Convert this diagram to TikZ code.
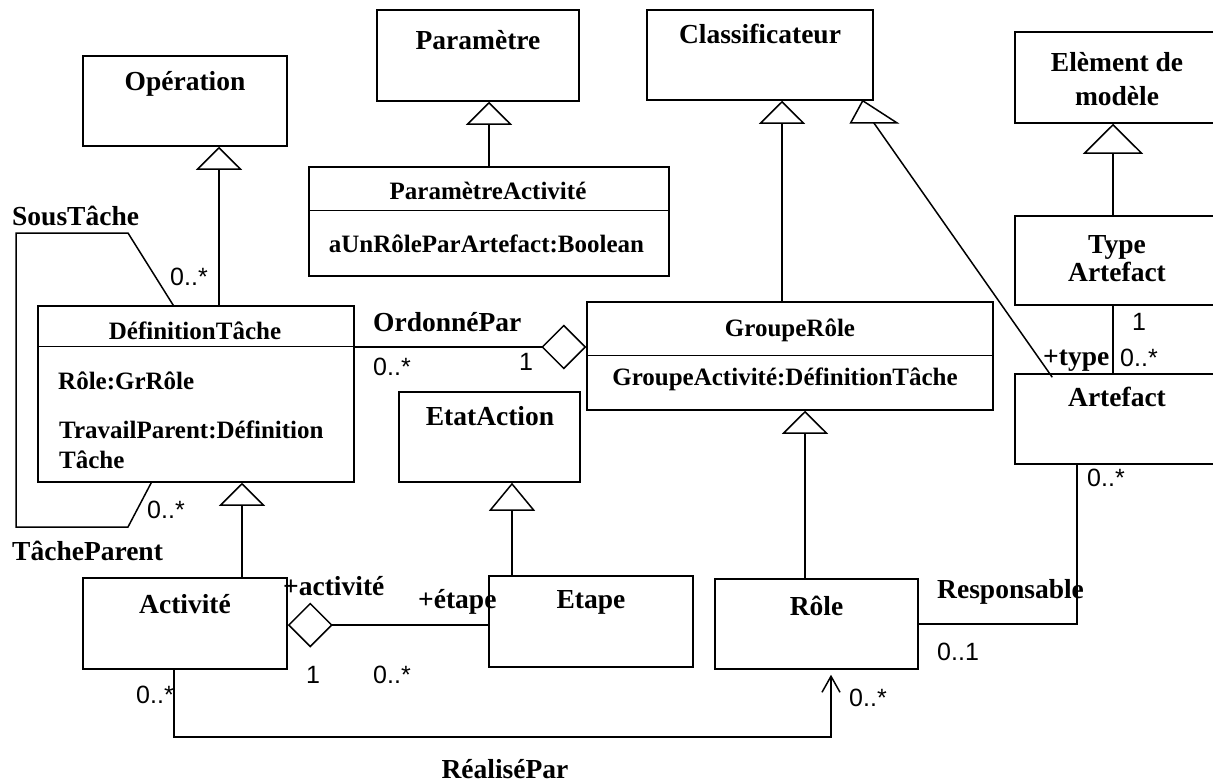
\documentclass[tikz,border=0pt]{standalone}
\usepackage{fontspec}
\setmainfont{Liberation Serif}
\newfontfamily\msans{Liberation Sans}
\usetikzlibrary{arrows.meta,calc}

\tikzset{
  cls/.style={draw, rectangle, line width=1.5pt, inner sep=0pt},
  ttl/.style={font=\bfseries\fontsize{27.5}{30}\selectfont, inner sep=0pt},
  att/.style={font=\bfseries\fontsize{25}{28}\selectfont, inner sep=0pt},
  mul/.style={font=\msans\fontsize{25}{28}\selectfont, inner sep=0pt},
  lnk/.style={line width=1.5pt},
  gen/.style={lnk, -{Triangle[open,length=23pt,width=46pt]}},
  genbig/.style={lnk, -{Triangle[open,length=30pt,width=60pt]}},
  gentall/.style={lnk, -{Triangle[open,length=28pt,width=46pt]}},
  aggend/.style={lnk, -{Diamond[open,length=45pt,width=45pt]}},
  aggstart/.style={lnk, {Diamond[open,length=45pt,width=45pt]}-},
  nav/.style={lnk, -{Straight Barb[length=16pt,width=18pt]}},
}

\begin{document}
\begin{tikzpicture}[x=1pt,y=-1pt]
\useasboundingbox (0,0) rectangle (1213,784);
\fill[white] (0,0) rectangle (1213,784);
\clip (0,0) rectangle (1213,784);

% ---------- classes ----------
\node[cls, minimum width=204, minimum height=90]  (op)   at (185,101)    {};
\node[cls, minimum width=202, minimum height=91]  (par)  at (478,55.5)   {};
\node[cls, minimum width=226, minimum height=90]  (cla)  at (760,55)     {};
\node[cls, minimum width=204, minimum height=91]  (elm)  at (1117,77.5)  {};
\node[cls, minimum width=360, minimum height=109] (pact) at (489,221.5)  {};
\node[cls, minimum width=204, minimum height=89]  (typ)  at (1117,260.5) {};
\node[cls, minimum width=316, minimum height=176] (deft) at (196,394)    {};
\node[cls, minimum width=406, minimum height=108] (grp)  at (790,356)    {};
\node[cls, minimum width=204, minimum height=90]  (art)  at (1117,419)   {};
\node[cls, minimum width=181, minimum height=90]  (eta)  at (489.5,437)  {};
\node[cls, minimum width=204, minimum height=91]  (act)  at (185,623.5)  {};
\node[cls, minimum width=204, minimum height=91]  (etp)  at (591,621.5)  {};
\node[cls, minimum width=203, minimum height=90]  (rol)  at (816.5,624)  {};

% compartment separators
\draw[lnk] ($(pact.north west)+(0,44)$) -- ($(pact.north east)+(0,44)$);
\draw[lnk] ($(deft.north west)+(0,41)$) -- ($(deft.north east)+(0,41)$);
\draw[lnk] ($(grp.north west)+(0,54)$) -- ($(grp.north east)+(0,54)$);

% ---------- class names and attributes ----------
\node[ttl, anchor=base] (tOp)  at (185,91)    {Opération};
\node[ttl, anchor=base] (tPar) at (478,50)    {Paramètre};
\node[ttl, anchor=base] (tCla) at (760,44)    {Classificateur};
\node[ttl, anchor=base] (tElA) at (1117,71)   {Elèment de};
\node[ttl, anchor=base] (tElB) at (1117,106)  {modèle};
\node[ttl, anchor=base] (tTyA) at (1117,253)  {Type};
\node[ttl, anchor=base] (tTyB) at (1117,281)  {Artefact};
\node[ttl, anchor=base] (tArt) at (1117,406)  {Artefact};
\node[ttl, anchor=base] (tEta) at (490,425)   {EtatAction};
\node[ttl, anchor=base] (tAct) at (185,613)   {Activité};
\node[ttl, anchor=base] (tEtp) at (591,608)   {Etape};
\node[ttl, anchor=base] (tRol) at (816.5,615) {Rôle};

\node[att, anchor=base] (tPac) at (488,199)   {ParamètreActivité};
\node[att, anchor=base] (aPac) at (486.5,252) {aUnRôleParArtefact:Boolean};
\node[att, anchor=base] (tDef) at (195,339)   {DéfinitionTâche};
\node[att, anchor=base west] (aDf1) at (58,389)  {Rôle:GrRôle};
\node[att, anchor=base west] (aDf2) at (59,438)  {TravailParent:Définition};
\node[att, anchor=base west] (aDf3) at (59,468)  {Tâche};
\node[att, anchor=base] (tGrp) at (790,336)   {GroupeRôle};
\node[att, anchor=base] (aGrp) at (785,385)   {GroupeActivité:DéfinitionTâche};

% ---------- generalisations ----------
\coordinate (xOp)  at (219,0);
\coordinate (xPar) at (489,0);
\coordinate (xCla) at (782,0);
\coordinate (xElm) at (1113,0);
\coordinate (xDef) at (242,0);
\coordinate (xEta) at (512,0);
\coordinate (xGrp) at (805,0);

\draw[gen]     (deft.north -| xOp)  -- (op.south -| xOp);
\draw[gen]     (pact.north -| xPar) -- (par.south -| xPar);
\draw[gen]     (grp.north -| xCla)  -- (cla.south -| xCla);
\draw[genbig]  (typ.north -| xElm)  -- (elm.south -| xElm);
\draw[gen]     (act.north -| xDef)  -- (deft.south -| xDef);
\draw[gentall] (etp.north -| xEta)  -- (eta.south -| xEta);
\draw[gen]     (rol.north -| xGrp)  -- (grp.south -| xGrp);

% Artefact -> Classificateur (slanted line, upright open triangle)
\coordinate (triApex) at ($(cla.south east)+(-11,0)$);
\coordinate (triL)    at ($(cla.south east)+(-23,22)$);
\coordinate (triR)    at ($(cla.south east)+(23,22)$);
\coordinate (triBase) at ($(cla.south east)+(0,22)$);
\draw[lnk] ($(art.north west)+(38,4)$) -- (triBase);
\draw[lnk, fill=white, line join=miter] (triApex) -- (triL) -- (triR) -- cycle;

% ---------- associations ----------
% OrdonnéPar
\coordinate (yOrd) at (0,347);
\draw[aggend] (deft.east |- yOrd) -- (grp.west |- yOrd);
\node[ttl, anchor=base west] (lOrd) at (373,331) {OrdonnéPar};
\node[mul, anchor=base west] (mOrdA) at (373,375) {0..*};
\node[mul, anchor=base west] (mOrdB) at (519,370) {1};

% Activité -- Etape (aggregation)
\coordinate (yAE) at (0,625);
\draw[aggstart] (act.east |- yAE) -- (etp.west |- yAE);
\node[ttl, anchor=base west] (lAct) at (283,595) {+activité};
\node[ttl, anchor=base west] (lEtp) at (418,608) {+étape};
\node[mul, anchor=base] (mAE1) at (313,683) {1};
\node[mul, anchor=base west] (mAE2) at (373,683) {0..*};

% SousTâche / TâcheParent reflexive association
\coordinate (stA) at (128,233);
\coordinate (stB) at (16,233);
\coordinate (stC) at (16,527);
\coordinate (stD) at (128,527);
\draw[lnk, line join=miter] ($(deft.north west)+(136,0)$) -- (stA) -- (stB) -- (stC) -- (stD) -- ($(deft.south west)+(114,0)$);
\node[ttl, anchor=base west] (lSous) at (12,225) {SousTâche};
\node[ttl, anchor=base west] (lPar)  at (12,560) {TâcheParent};
\node[mul, anchor=base west] (mSous) at (170,285) {0..*};
\node[mul, anchor=base west] (mPar)  at (147,518) {0..*};

% Type Artefact -- Artefact
\draw[lnk] (typ.south -| xElm) -- (art.north -| xElm);
\node[mul, anchor=base west] (mTy1) at (1132,330) {1};
\node[mul, anchor=base west] (mTy2) at (1120,366) {0..*};
\node[ttl, anchor=base west] (lTyp) at (1043,365) {+type};

% Responsable
\coordinate (yRes) at (0,624);
\coordinate (xRes) at (1077,0);
\draw[lnk] (rol.east |- yRes) -| (art.south -| xRes);
\node[ttl, anchor=base west] (lRes) at (937,598) {Responsable};
\node[mul, anchor=base west] (mRes1) at (937,660) {0..1};
\node[mul, anchor=base west] (mRes2) at (1087,486) {0..*};

% RéaliséPar
\coordinate (xRpL) at (174,0);
\coordinate (xRpR) at (831,0);
\coordinate (rpBot) at (831,737);
\draw[nav, shorten >=5pt] (act.south -| xRpL) |- (rpBot) -- (rol.south -| xRpR);
\node[ttl, anchor=base] (lRp) at (505,778) {RéaliséPar};
\node[mul, anchor=base west] (mRp1) at (136,703) {0..*};
\node[mul, anchor=base west] (mRp2) at (849,706) {0..*};

\end{tikzpicture}
\end{document}
